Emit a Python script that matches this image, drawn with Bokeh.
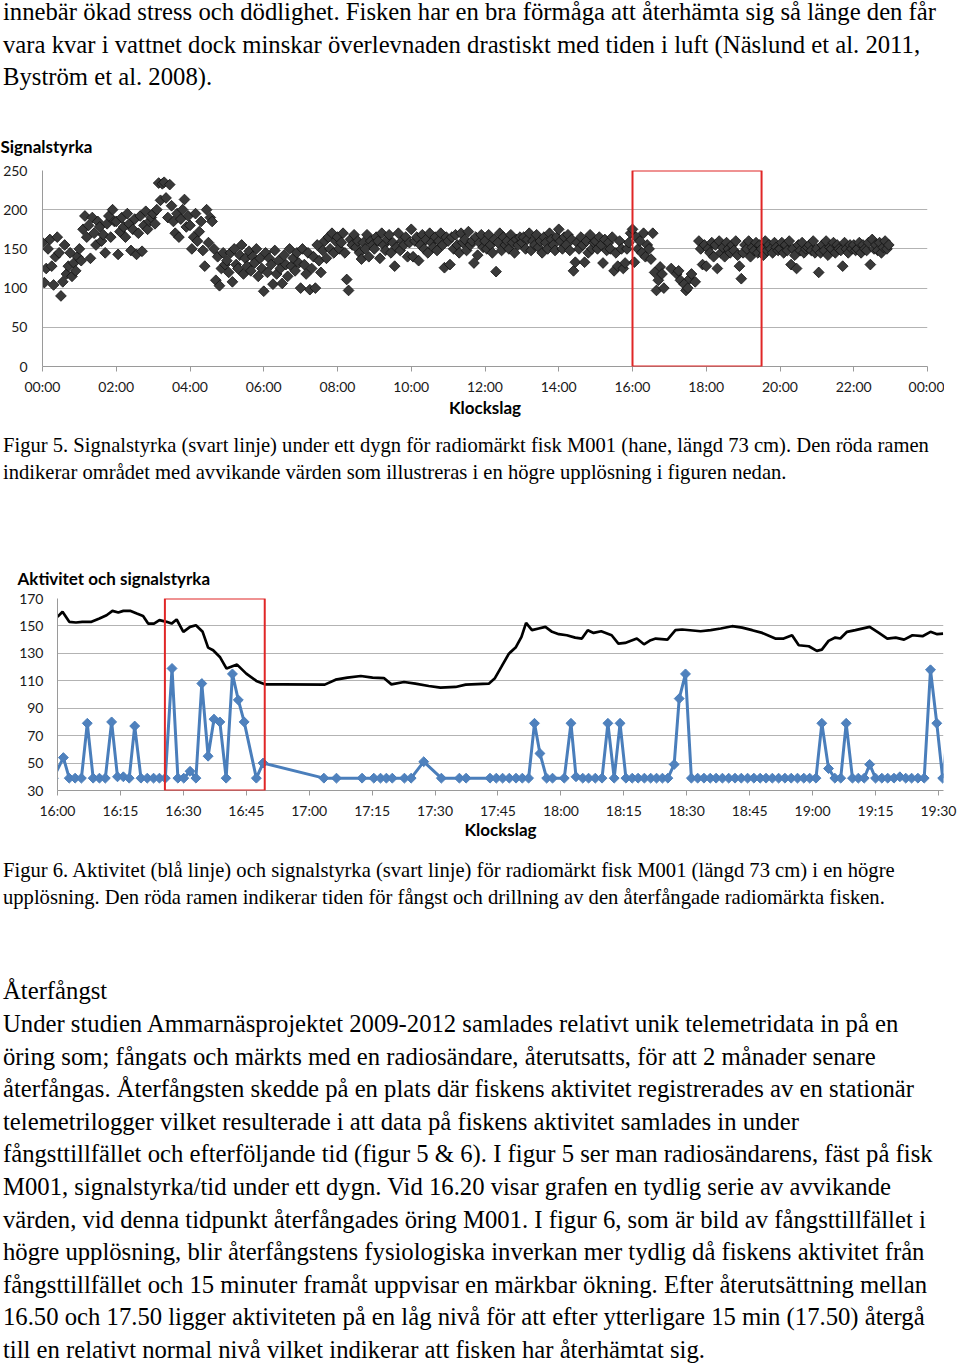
import html
import numpy as np
from bokeh.plotting import figure
from bokeh.models import Div, FixedTicker, BoxAnnotation, Range1d
from bokeh.layouts import column
from bokeh.embed import file_html
from bokeh.resources import INLINE

nan = float("nan")

# ---------------- texts ----------------
intro_lines = [
    "innebär ökad stress och dödlighet. Fisken har en bra förmåga att återhämta sig så länge den får",
    "vara kvar i vattnet dock minskar överlevnaden drastiskt med tiden i luft (Näslund et al. 2011,",
    "Byström et al. 2008).",
]
cap5_lines = [
    "Figur 5. Signalstyrka (svart linje) under ett dygn för radiomärkt fisk M001 (hane, längd 73 cm). Den röda ramen",
    "indikerar området med avvikande värden som illustreras i en högre upplösning i figuren nedan.",
]
cap6_lines = [
    "Figur 6. Aktivitet (blå linje) och signalstyrka (svart linje) för radiomärkt fisk M001 (längd 73 cm) i en högre",
    "upplösning. Den röda ramen indikerar tiden för fångst och drillning av den återfångade radiomärkta fisken.",
]
body_lines = [
    "Återfångst",
    "Under studien Ammarnäsprojektet 2009-2012 samlades relativt unik telemetridata in på en",
    "öring som; fångats och märkts med en radiosändare, återutsatts, för att 2 månader senare",
    "återfångas. Återfångsten skedde på en plats där fiskens aktivitet registrerades av en stationär",
    "telemetrilogger vilket resulterade i att data på fiskens aktivitet samlades in under",
    "fångsttillfället och efterföljande tid (figur 5 & 6). I figur 5 ser man radiosändarens, fäst på fisk",
    "M001, signalstyrka/tid under ett dygn. Vid 16.20 visar grafen en tydlig serie av avvikande",
    "värden, vid denna tidpunkt återfångades öring M001. I figur 6, som är bild av fångsttillfället i",
    "högre upplösning, blir återfångstens fysiologiska inverkan mer tydlig då fiskens aktivitet från",
    "fångsttillfället och 15 minuter framåt uppvisar en märkbar ökning. Efter återutsättning mellan",
    "16.50 och 17.50 ligger aktiviteten på en låg nivå för att efter ytterligare 15 min (17.50) återgå",
    "till en relativt normal nivå vilket indikerar att fisken har återhämtat sig.",
]

# ---------------- Figure 5 data: signal strength over one day ----------------
fig5_title = "Signalstyrka"
fig5_xlabel = "Klockslag"
fig5_tick_hours = [0, 2, 4, 6, 8, 10, 12, 14, 16, 18, 20, 22, 24]
fig5_tick_labels = ["00:00", "02:00", "04:00", "06:00", "08:00", "10:00", "12:00",
                    "14:00", "16:00", "18:00", "20:00", "22:00", "00:00"]
fig5_y_ticks = [0, 50, 100, 150, 200, 250]
sample_minutes = [0, 3, 6, 9, 12, 15, 18, 21, 24, 27, 30, 33, 36, 39, 42, 45, 48, 51, 54, 57]
sig_day = {
    0:  [158, 107, 125, 150, 162, 128, 104, 140, 165, 145, 90, 108, 155, 118, 128, 145, 115, 132, 122, 140],
    1:  [150, 135, 175, 192, 165, 180, 138, 190, 170, 155, 185, 178, 160, 168, 145, 182, 192, 165, 200, 185],
    2:  [185, 143, 172, 190, 178, 165, 195, 182, 148, 175, 188, 143, 170, 192, 147, 180, 198, 175, 185, 190],
    3:  [195, 182, 200, 234, 212, 233, 235, 215, 190, 232, 205, 185, 170, 195, 165, 188, 200, 213, 178, 192],
    4:  [180, 150, 165, 195, 160, 172, 185, 148, 128, 200, 158, 190, 185, 150, 110, 140, 103, 125, 145, 130],
    5:  [135, 120, 145, 108, 150, 130, 125, 142, 155, 118, 138, 128, 147, 122, 140, 132, 150, 115, 138, 125],
    6:  [96, 145, 120, 138, 130, 105, 148, 118, 135, 125, 106, 142, 130, 115, 150, 128, 138, 122, 145, 132],
    7:  [100, 150, 130, 118, 145, 98, 125, 140, 100, 155, 135, 120, 148, 160, 138, 165, 150, 170, 145, 160],
    8:  [165, 150, 158, 170, 145, 111, 97, 162, 155, 168, 152, 160, 145, 137, 158, 150, 168, 140, 160, 155],
    9:  [150, 165, 160, 138, 170, 155, 148, 162, 168, 145, 158, 128, 152, 170, 148, 160, 155, 165, 140, 158],
    10: [175, 140, 160, 165, 135, 155, 168, 150, 162, 145, 170, 158, 152, 165, 148, 160, 170, 155, 126, 165],
    11: [160, 130, 165, 150, 168, 155, 145, 170, 158, 162, 148, 172, 155, 160, 132, 165, 142, 158, 168, 152],
    12: [160, 150, 168, 155, 145, 162, 121, 158, 170, 148, 165, 155, 160, 150, 168, 158, 145, 162, 155, 165],
    13: [158, 165, 150, 162, 170, 148, 160, 155, 168, 152, 160, 145, 165, 158, 150, 170, 162, 155, 148, 165],
    14: [175, 160, 150, 165, 155, 168, 148, 162, 122, 133, 158, 150, 165, 155, 133, 160, 145, 168, 150, 158],
    15: [160, 150, 165, 155, 132, 162, 148, 158, 150, 165, 122, 145, 128, 160, 150, 125, 132, 150, 158, 170],
    16: [175, 133, 165, 150, 160, 145, 170, 140, 155, 150, 137, 170, 120, 97, 110, 127, 118, 100, nan, nan],
    17: [nan, 125, nan, nan, 118, 122, 110, nan, 105, 97, 100, 112, 118, nan, 108, nan, 160, 150, 130, 155],
    18: [128, 150, 145, 158, 140, 155, 125, 160, 145, 152, 140, 158, 150, 145, 155, 148, 160, 142, 128, 112],
    19: [145, 155, 150, 160, 140, 152, 148, 158, 145, 155, 150, 142, 160, 148, 155, 150, 145, 158, 152, 148],
    20: [150, 158, 145, 155, 148, 160, 130, 150, 142, 125, 155, 148, 158, 145, 150, 152, 155, 148, 160, 145],
    21: [150, 120, 145, 155, 148, 160, 142, 152, 150, 158, 145, 155, 150, 148, 128, 158, 150, 145, 155, 150],
    22: [155, 148, 150, 158, 145, 155, 150, 148, 158, 130, 162, 150, 155, 148, 158, 145, 152, 160, 150, 155],
}
fig5_box = dict(start=16.0, end=19.5, low=0, high=250)

# ---------------- Figure 6 data: activity and signal strength 16:00-19:30 ----------------
fig6_title = "Aktivitet och signalstyrka"
fig6_xlabel = "Klockslag"
fig6_tick_minutes = [0, 15, 30, 45, 60, 75, 90, 105, 120, 135, 150, 165, 180, 195, 210]
fig6_tick_labels = ["16:00", "16:15", "16:30", "16:45", "17:00", "17:15", "17:30", "17:45",
                    "18:00", "18:15", "18:30", "18:45", "19:00", "19:15", "19:30"]
fig6_y_ticks = [30, 50, 70, 90, 110, 130, 150, 170]

act_min = [-1, 1.4, 2.8, 4.2, 5.7, 7.1, 8.5, 10.0, 11.4, 12.9, 14.3, 15.7, 17.1, 18.4, 19.9,
           21.4, 22.9, 24.3, 25.7, 27.3, 28.7, 30.1, 31.6, 33.0, 34.4, 35.9, 37.3, 38.7, 40.2,
           41.7, 43.1, 44.5, 47.4, 49.0,
           63.5, 66.5, 72.6, 75.4, 77.0, 78.4, 79.8, 82.7, 84.3, 87.3, 91.5, 95.8, 97.4,
           103.1, 104.6, 106.1, 107.7, 109.3, 110.8, 112.3, 113.7, 115.0, 116.6, 118.0,
           120.8, 122.4, 123.6, 125.2, 126.6, 128.2, 129.8, 131.2, 132.7, 134.1, 135.5,
           137.0, 138.4, 139.9, 141.4, 142.8, 144.2, 145.5, 147.0, 148.2, 149.7,
           151.1, 152.6, 154.1, 155.6, 157.0, 158.5, 160.0, 161.5, 163.0, 164.5, 166.0,
           167.5, 168.9, 170.4, 171.9, 173.4, 174.9, 176.4, 177.9, 179.3, 180.8,
           182.2, 183.8, 185.3, 186.7, 188.0, 189.5, 190.9, 192.3, 193.6, 195.0, 196.5,
           197.9, 199.4, 200.8, 202.2, 203.6, 205.1, 206.6, 208.1, 209.6, 211.0, 212.5]
act_val = [39, 54, 39, 39, 39, 79, 39, 39, 39, 80, 40, 40, 39, 77, 39,
           39, 39, 39, 39, 119, 39, 39, 44, 39, 108, 55, 82, 80, 39,
           115, 96, 80, 39, 50,
           39, 39, 39, 39, 39, 39, 39, 39, 39, 51, 39, 39, 39,
           39, 39, 39, 39, 39, 39, 39, 79, 57, 39, 39,
           39, 79, 40, 39, 39, 39, 39, 79, 39, 79, 39,
           39, 39, 39, 39, 39, 39, 39, 49, 97, 115,
           39, 39, 39, 39, 39, 39, 39, 39, 39, 39, 39,
           39, 39, 39, 39, 39, 39, 39, 39, 39, 39,
           79, 46, 39, 39, 79, 39, 39, 39, 49, 39, 39,
           39, 39, 40, 39, 39, 39, 39, 118, 79, 39, 80]

sig_min = [0, 1.2, 2.8, 4.4, 5.9, 8.1, 10, 11.7, 13.1, 14.5, 15.7, 17.3, 18.9, 20.4, 21.6, 23,
           24.3, 26, 27.2, 28.4, 30, 31.6, 33, 34.6, 35.9, 37.1, 38.7, 40.3, 42.8, 45, 47.4,
           49.4, 53.8, 63.7, 66.3, 69.1, 72.3, 75.1, 77.8, 79.6, 82.6, 85.3, 88.5, 91.3, 94.9,
           97.3, 102.8, 104.2, 105.8, 107.6, 109.2, 110.6, 111.7, 113.1, 114.7, 116.3, 117.9,
           119.5, 121.4, 123.4, 125, 126.4, 127.8, 129.6, 132.1, 133.7, 135.3, 138.1, 139.8,
           141.4, 142.6, 145.4, 147.3, 148.9, 153.3, 155.7, 158.1, 160.8, 163.2, 165.6, 168,
           171.1, 173.1, 175.1, 176.7, 179.1, 181, 182.2, 183.8, 185.4, 186.6, 188.2, 190.2,
           193.6, 195.8, 197.8, 199.8, 201.8, 203.8, 206.2, 208.1, 209.7, 211.1]
sig_val = [156.6, 160.3, 153, 152.5, 153, 153, 155.4, 157.8, 161, 159.8, 161, 161, 159, 157.3,
           151.7, 151.7, 154.2, 153, 151.7, 154.7, 145.7, 149.3, 150.5, 145.7, 134.2, 132.3,
           127.4, 118.9, 121.8, 115.2, 109.9, 107.4, 107.4, 107.2, 110.8, 112.3, 113.5, 112.3,
           112, 107.4, 109.1, 107.9, 106.2, 105, 105.5, 107.2, 107.9, 111.6, 120.1, 129.8,
           134.2, 142, 152.2, 146.9, 148.1, 149.3, 145.7, 144, 143.2, 141.5, 140.8, 146.9,
           144.9, 146.1, 143.2, 137.1, 137.6, 140.8, 136.6, 139.6, 140.8, 140, 146.9, 147.4,
           146.1, 146.9, 148.1, 149.8, 148.8, 146.9, 144.9, 140.8, 140.8, 143.2, 135.9, 135.2,
           131.8, 132.7, 139.1, 141.5, 140.8, 145.7, 146.9, 149.3, 144.9, 140.8, 141.5, 140,
           143.2, 142.5, 145.7, 144, 144.4]
fig6_box = dict(start=25.6, end=49.4, low=30, high=170)

RED = "#e02626"
GRID = "#b3b3b3"
AXIS = "#9a9a9a"
FONT = "Lato"
W = 944


def text_block(lines, size, spacing, first_baseline, height, left=3):
    """Lines of serif text; first_baseline is measured from the block's top."""
    half = 0.3375 * size           # (ascent - descent)/2 for Liberation Serif
    lh = spacing
    b = lh / 2 + half
    pad = first_baseline - b
    if pad < 0:
        pad = 0
        lh = 2 * (first_baseline - half)
    parts = [f'<div style="height:{pad:.2f}px;margin:0;padding:0;"></div>']
    for l in lines:
        parts.append(f'<div style="height:{spacing}px;line-height:{lh:.2f}px;white-space:nowrap;'
                     f'margin:0;padding:0 0 0 {left}px;">{html.escape(l)}</div>')
    s = ('<div style="font-family:\'Liberation Serif\',\'Times New Roman\',serif;'
         f'font-size:{size}px;color:#000;margin:0;padding:0;">' + "".join(parts) + '</div>')
    return Div(text=s, width=W, height=height, margin=0)


def style_axes(p, yticks, xticks, xlabels, xlabel, ystandoff, label_standoff):
    p.outline_line_color = None
    p.background_fill_color = "white"
    p.border_fill_color = "white"
    p.xgrid.grid_line_color = None
    p.ygrid.grid_line_color = GRID
    p.ygrid.grid_line_width = 1
    p.yaxis.ticker = FixedTicker(ticks=yticks)
    p.xaxis.ticker = FixedTicker(ticks=xticks)
    p.xaxis.major_label_overrides = {t: l for t, l in zip(xticks, xlabels)}
    for ax in (p.xaxis, p.yaxis):
        ax.axis_line_color = AXIS
        ax.axis_line_width = 1
        ax.minor_tick_line_color = None
        ax.major_label_text_font = FONT
        ax.major_label_text_font_size = "14px"
        ax.major_label_text_color = "#1a1a1a"
    p.yaxis.major_tick_line_color = None
    p.yaxis.major_tick_out = 0
    p.yaxis.major_tick_in = 0
    p.yaxis.major_label_standoff = ystandoff
    p.xaxis.major_tick_line_color = AXIS
    p.xaxis.major_tick_out = 5
    p.xaxis.major_tick_in = 0
    p.xaxis.major_label_standoff = 6
    p.xaxis.axis_label = xlabel
    p.xaxis.axis_label_text_font = FONT
    p.xaxis.axis_label_text_font_size = "17px"
    p.xaxis.axis_label_text_font_style = "bold"
    p.xaxis.axis_label_text_color = "#000"
    p.xaxis.axis_label_standoff = label_standoff


def style_title(p, text, offset, standoff):
    p.title.text = text
    p.title.text_font = FONT
    p.title.text_font_size = "17px"
    p.title.text_font_style = "bold"
    p.title.text_color = "#000"
    p.title.align = "left"
    p.title.offset = offset
    p.title.standoff = standoff


# ---------------- Figure 5 ----------------
hrs, vals = [], []
for h, row in sig_day.items():
    for m, v in zip(sample_minutes, row):
        hrs.append(h + m / 60.0)
        vals.append(v)

p1 = figure(width=W, height=307, x_range=Range1d(0, 24), y_range=Range1d(0, 250),
            output_backend="svg", toolbar_location=None,
            min_border_left=42, min_border_right=17, min_border_top=52, min_border_bottom=59,
            margin=0)
style_axes(p1, fig5_y_ticks, fig5_tick_hours, fig5_tick_labels, fig5_xlabel, 15, -1)
style_title(p1, fig5_title, -42, 28)
p1.scatter(hrs, vals, marker="square", angle=np.pi / 4, size=7.6,
           fill_color="#3a3a3a", line_color="#111111", line_width=0.8)
p1.add_layout(BoxAnnotation(left=fig5_box["start"], right=fig5_box["end"],
                            bottom=fig5_box["low"], top=fig5_box["high"],
                            fill_alpha=0, line_color=RED, line_width=2, line_alpha=1))

# ---------------- Figure 6 ----------------
p2 = figure(width=945, height=310, x_range=Range1d(0, 211.2), y_range=Range1d(30, 170),
            output_backend="svg", toolbar_location=None,
            min_border_left=42, min_border_right=17, min_border_top=58, min_border_bottom=60,
            margin=(0, 0, 0, 15))
style_axes(p2, fig6_y_ticks, fig6_tick_minutes, fig6_tick_labels, fig6_xlabel, 14, -3)
style_title(p2, fig6_title, -40, 20)
p2.line(sig_min, sig_val, line_color="black", line_width=2.7)
p2.line(act_min, act_val, line_color="#4a7ebb", line_width=3)
p2.scatter(act_min, act_val, marker="square", angle=np.pi / 4, size=7,
           fill_color="#4f81bd", line_color="#4a7ebb", line_width=1)
p2.add_layout(BoxAnnotation(left=fig6_box["start"], right=fig6_box["end"],
                            bottom=fig6_box["low"], top=fig6_box["high"],
                            fill_alpha=0, line_color=RED, line_width=2, line_alpha=1))

# ---------------- page ----------------
d_intro = text_block(intro_lines, 24.7, 32.5, 20, 118)
d_cap5 = text_block(cap5_lines, 20.6, 27, 27, 115)
d_cap6 = text_block(cap6_lines, 20.6, 27, 27, 105)
d_body = text_block(body_lines, 24.7, 32.6, 45, 412)

page = column(d_intro, p1, d_cap5, p2, d_cap6, d_body, spacing=0, margin=0)

open("out.html", "w").write(file_html(page, INLINE, title="Figur 5 och 6"))
